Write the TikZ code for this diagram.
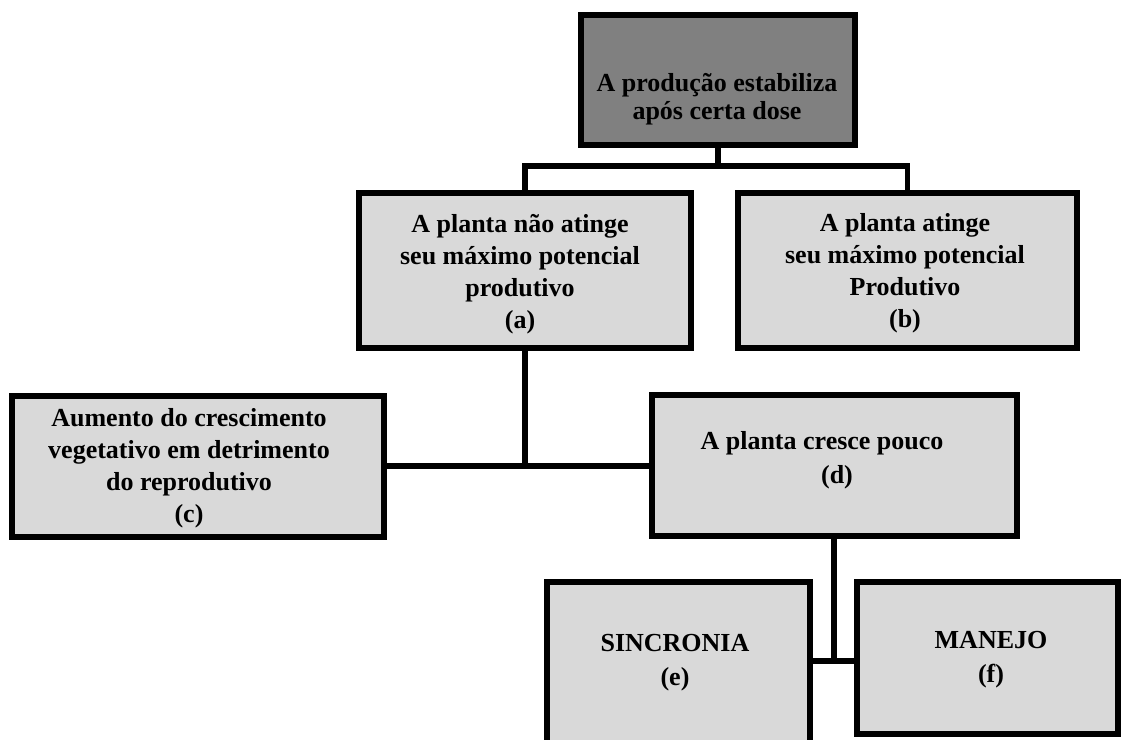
\documentclass[tikz,border=0pt]{standalone}
\usepackage{fontspec}
\setmainfont{Liberation Serif}
\definecolor{boxgray}{HTML}{D9D9D9}
\definecolor{darkbox}{HTML}{808080}
\begin{document}
\begin{tikzpicture}[x=1pt,y=-1pt,
  box/.style={draw=black, line width=5.5pt, line join=miter, rectangle, inner sep=0pt, fill=boxgray},
  conn/.style={draw=black, line width=5.5pt, line join=miter},
  txt/.style={align=center, inner sep=0pt, font=\fontsize{26}{32}\selectfont\bfseries},
  txtb/.style={txt, font=\fontsize{26}{34}\selectfont\bfseries}]
\useasboundingbox (0,0) rectangle (1139,739);
\clip (0,0) rectangle (1139,739);
\fill[white] (0,0) rectangle (1139,739);
% boxes
\node[box, fill=darkbox, minimum width=274pt, minimum height=130pt] (top) at (718,80) {};
\node[box, minimum width=332pt, minimum height=155pt] (a) at (525,270.5) {};
\node[box, minimum width=339pt, minimum height=155pt] (b) at (907.5,270.5) {};
\node[box, minimum width=372pt, minimum height=141pt] (c) at (198,466.5) {};
\node[box, minimum width=365pt, minimum height=141pt] (d) at (834.5,465.5) {};
\node[box, minimum width=263pt, minimum height=178pt] (e) at (678.5,671) {};
\node[box, minimum width=261pt, minimum height=152pt] (f) at (987.5,658) {};
% connectors
\coordinate (j1) at (718,166);
\coordinate (j2) at (525,466);
\coordinate (j3) at (834,661);
\draw[conn] (top.south) -- (j1);
\draw[conn] (a.north) |- (j1) -| (b.north);
\draw[conn] (a.south) -- (j2);
\draw[conn] (c.east |- j2) -- (d.west |- j2);
\draw[conn] (d.south -| j3) -- (j3);
\draw[conn] (e.east |- j3) -- (f.west |- j3);
% texts
\node[txt, font=\fontsize{26}{28}\selectfont\bfseries] (ttop) at (717,99) {A produção estabiliza\\após certa dose};
\node[txt] (ta) at (520,274) {A planta não atinge\\seu máximo potencial\\produtivo\\(a)};
\node[txt] (tb) at (905,273) {A planta atinge\\seu máximo potencial\\Produtivo\\(b)};
\node[txt] (tc) at (189,468) {Aumento do crescimento\\vegetativo em detrimento\\do reprodutivo\\(c)};
\node[txtb] (td) at (822,460) {A planta cresce pouco\\\hspace*{30pt}(d)};
\node[txtb] (te) at (675,663) {SINCRONIA\\(e)};
\node[txtb] (tf) at (991,660) {MANEJO\\(f)};
\end{tikzpicture}
\end{document}
